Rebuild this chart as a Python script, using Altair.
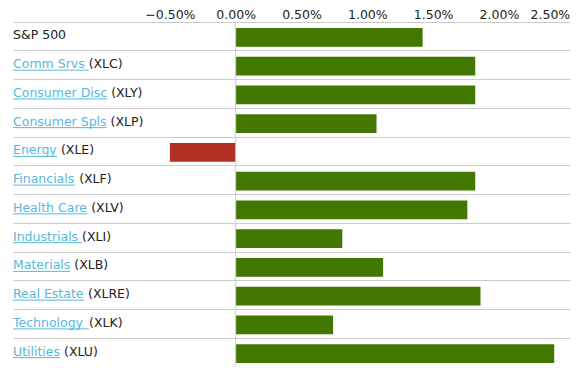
import altair as alt
import pandas as pd

categories = ["S&P 500", "Comm Srvs", "Consumer Disc", "Consumer Spls", "Energy",
              "Financials", "Health Care", "Industrials", "Materials", "Real Estate",
              "Technology", "Utilities"]
tickers = ["", "XLC", "XLY", "XLP", "XLE", "XLF", "XLV", "XLI", "XLB", "XLRE", "XLK", "XLU"]
values_pct = [1.42, 1.82, 1.82, 1.07, -0.50, 1.82, 1.76, 0.81, 1.12, 1.86, 0.74, 2.42]
tick_values_pct = [-0.5, 0.0, 0.5, 1.0, 1.5, 2.0, 2.5]
underline_trailing = ["Comm Srvs", "Industrials", "Technology"]

FONT = "DejaVu Sans"
FS = 12.5
LINK = "#55b9de"
GREEN = "#427800"
RED = "#b03024"
GRID = "#cccccc"
TXT = "#222222"

WIDTH = 557
HEIGHT = 345
STEP = HEIGHT / len(categories)

# DejaVu Sans advance widths (units per 2048 em)
W = {" ": 651, "&": 1595, "(": 799, ")": 799, "0": 1303, "5": 1303,
     "A": 1401, "B": 1405, "C": 1430, "D": 1577, "E": 1294, "F": 1178, "H": 1540,
     "I": 604, "K": 1343, "L": 1141, "M": 1767, "P": 1235, "R": 1423, "S": 1300,
     "T": 1251, "U": 1499, "V": 1401, "X": 1405, "Y": 1251,
     "a": 1255, "b": 1300, "c": 1126, "d": 1300, "e": 1260, "f": 721, "g": 1300,
     "h": 1298, "i": 569, "l": 569, "m": 1995, "n": 1298, "o": 1253, "p": 1300,
     "r": 842, "s": 1067, "t": 803, "u": 1298, "v": 1212, "y": 1212}


def tw(s):
    return sum(W.get(ch, 1250) for ch in s) / 2048 * FS


rows = []
for c, t, v in zip(categories, tickers, values_pct):
    if t == "":
        rows.append(dict(cat=c, val=v / 100, link="", plain=c, plain_x=0.0, ul=0.0))
    else:
        ul = tw(c + (" " if c in underline_trailing else ""))
        rows.append(dict(cat=c, val=v / 100, link=c, plain=f"({t})",
                         plain_x=tw(c + " "), ul=ul))
df = pd.DataFrame(rows)

y_scale = alt.Scale(paddingInner=0, paddingOuter=0)
y_axis = alt.Axis(labels=False, ticks=False, domain=False, grid=True,
                  bandPosition=1, gridColor=GRID, gridWidth=1, title=None)
y = alt.Y("cat:N", sort=categories, title=None, scale=y_scale, axis=y_axis)

base = alt.Chart(df)

last_tick = "datum.value >= 0.0249"

bars = base.mark_bar(height=alt.RelativeBandSize(0.66)).encode(
    x=alt.X("val:Q", title=None,
            scale=alt.Scale(domain=[-0.01692, 0.02540], nice=False, zero=False),
            axis=alt.Axis(orient="top", format=".2%",
                          values=[v / 100 for v in tick_values_pct],
                          grid=False, ticks=False, domainColor=GRID,
                          labelFont=FONT, labelFontSize=FS, labelColor=TXT,
                          labelPadding=1, labelFlush=False, labelOverlap=False,
                          labelAlign={"condition": {"test": last_tick, "value": "right"},
                                      "value": "center"},
                          labelOffset={"condition": {"test": last_tick, "value": 5},
                                       "value": 0})),
    x2=alt.datum(0),
    y=y,
    yOffset=alt.value(1),
    color=alt.condition("datum.val < 0", alt.value(RED), alt.value(GREEN)),
)

zero_rule = alt.Chart(pd.DataFrame({"z": [0]})).mark_rule(color=GRID).encode(
    x=alt.datum(0)
)

links = base.transform_filter("datum.link != ''").mark_text(
    align="left", baseline="middle", dy=-1, font=FONT, fontSize=FS, color=LINK
).encode(x=alt.value(0), y=y, text="link:N")

plain = base.mark_text(
    align="left", baseline="middle", dy=-1, font=FONT, fontSize=FS, color=TXT
).encode(x=alt.X("plain_x:Q", scale=None, axis=None), y=y, text="plain:N")

underline = base.transform_filter("datum.link != ''").mark_rule(
    color=LINK, strokeWidth=1
).encode(x=alt.X("ul:Q", scale=None, axis=None), x2=alt.value(0), y=y,
         yOffset=alt.value(STEP / 2 + 5))

chart = alt.layer(bars, zero_rule, underline, links, plain).properties(
    width=WIDTH, height=HEIGHT,
    autosize=alt.AutoSizeParams(type="none"),
    padding={"left": 5, "top": 14, "right": 2, "bottom": 0},
).configure_view(stroke=None)

chart.save("out.html", embed_options={"renderer": "svg", "actions": False})
